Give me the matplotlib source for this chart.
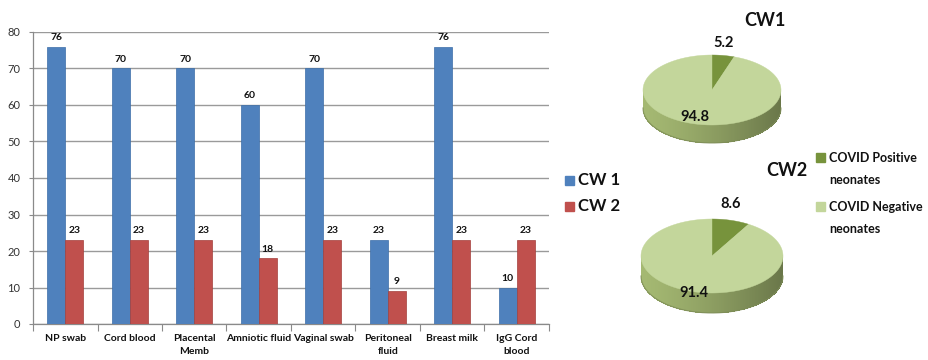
import numpy as np
import matplotlib
matplotlib.use("Agg")
import matplotlib.pyplot as plt
from matplotlib.patches import Polygon, Rectangle
from matplotlib.colors import to_rgb

plt.rcParams['font.family'] = ['Lato', 'DejaVu Sans']

# ---- data ----
categories = ["NP swab", "Cord blood", "Placental\nMemb", "Amniotic fluid",
              "Vaginal swab", "Peritoneal\nfluid", "Breast milk", "IgG Cord\nblood"]
cw1 = [76, 70, 70, 60, 70, 23, 76, 10]
cw2 = [23, 23, 23, 18, 23, 9, 23, 23]
series_names = ["CW 1", "CW 2"]
y_ticks = [0, 10, 20, 30, 40, 50, 60, 70, 80]

pie_titles = ["CW1", "CW2"]
pie_cw1 = [5.2, 94.8]
pie_cw2 = [8.6, 91.4]
pie_labels = ["COVID Positive\nneonates", "COVID Negative\nneonates"]

BLUE = "#4F81BD"
RED = "#C0504D"
POS = "#77933C"
NEG = "#C3D69B"
SIDE = "#93A566"

W, H = 929, 360
fig = plt.figure(figsize=(W / 100, H / 100), dpi=100)
fig.patch.set_facecolor("white")

# ---- grouped bar chart ----
x0, x1, ytop, ybot = 33, 549, 32, 324
ax = fig.add_axes([x0 / W, 1 - ybot / H, (x1 - x0) / W, (ybot - ytop) / H])
x = np.arange(len(categories))
bw = 0.28
b1 = ax.bar(x - bw / 2, cw1, bw, color=BLUE, edgecolor="#3d6ea8", linewidth=0.5, zorder=3)
b2 = ax.bar(x + bw / 2, cw2, bw, color=RED, edgecolor="#a33f3c", linewidth=0.5, zorder=3)
for bars, vals in ((b1, cw1), (b2, cw2)):
    for rect, v in zip(bars, vals):
        ax.text(rect.get_x() + rect.get_width() / 2, v + 1.3, f"{v}",
                ha="center", va="bottom", fontsize=7.5, fontweight="bold", color="#111111")

ax.set_xlim(-0.5, len(categories) - 0.5)
ax.set_ylim(0, 80)
ax.set_yticks(y_ticks)
ax.yaxis.grid(True, color="#9a9a9a", linewidth=1.0, zorder=0)
ax.set_axisbelow(True)
ax.tick_params(axis="y", labelsize=8, colors="#333333", length=3, width=0.8,
               direction="out", pad=6)
ax.tick_params(axis="y", color="#8a8a8a")
ax.set_xticks(x)
ax.set_xticklabels(categories, fontsize=7.5, fontweight="bold", linespacing=1.6)
ax.tick_params(axis="x", length=0, pad=7, colors="#111111")
ax.set_xticks(np.arange(-0.5, len(categories)), minor=True)
ax.tick_params(axis="x", which="minor", length=5, width=0.8, color="#8a8a8a", direction="out")
for s in ("top", "right"):
    ax.spines[s].set_visible(False)
for s in ("left", "bottom"):
    ax.spines[s].set_color("#8a8a8a")
    ax.spines[s].set_linewidth(0.9)

# overlay in pixel units for the legends and 3D pies
ov = fig.add_axes([0, 0, 1, 1])
ov.set_xlim(0, W)
ov.set_ylim(H, 0)
ov.axis("off")
ov.patch.set_alpha(0)

# bar legend
for i, (name, col) in enumerate(zip(series_names, [BLUE, RED])):
    yy = 180 + 26 * i
    ov.add_patch(Rectangle((565, yy - 4.5), 9, 9, color=col))
    ov.text(578, yy, name, fontsize=12, fontweight="bold", va="center", ha="left",
            color="#111111")


def shade(col, f):
    r, g, b = to_rgb(col)
    return (min(1, r * f), min(1, g * f), min(1, b * f))


def slice_index(theta_deg, bounds):
    # clockwise distance from 12 o'clock
    d = (90 - theta_deg) % 360
    for k in range(len(bounds) - 1):
        if bounds[k] <= d < bounds[k + 1]:
            return k
    return len(bounds) - 2


def pie3d(values, cx, cy, a, b, depth, colors, side_colors):
    total = sum(values)
    bounds = np.concatenate([[0], np.cumsum(values) / total * 360])
    # front side wall, shaded strip by strip
    ths = np.linspace(180, 360, 241)
    for t0, t1 in zip(ths[:-1], ths[1:]):
        tm = 0.5 * (t0 + t1)
        k = slice_index(tm, bounds)
        c = np.cos(np.radians(tm))
        f = 1.12 - 0.40 * ((c + 1) / 2) ** 1.3
        p = [(cx + a * np.cos(np.radians(t)), cy - b * np.sin(np.radians(t))) for t in (t0, t1 + 0.3)]
        quad = [p[0], p[1], (p[1][0], p[1][1] + depth), (p[0][0], p[0][1] + depth)]
        ov.add_patch(Polygon(quad, closed=True, facecolor=shade(side_colors[k], f),
                             edgecolor="none", linewidth=0, antialiased=False))
    # soft outline of the lower rim
    tt = np.linspace(180, 360, 200)
    ov.plot(cx + a * np.cos(np.radians(tt)), cy - b * np.sin(np.radians(tt)) + depth,
            color=shade(SIDE, 0.85), linewidth=0.8, alpha=0.8)
    # top face wedges
    for k in range(len(values)):
        a0, a1 = 90 - bounds[k], 90 - bounds[k + 1]
        tt = np.linspace(a0, a1, 200)
        pts = [(cx, cy)] + [(cx + a * np.cos(np.radians(t)), cy - b * np.sin(np.radians(t)))
                            for t in tt]
        ov.add_patch(Polygon(pts, closed=True, facecolor=colors[k], edgecolor=colors[k],
                             linewidth=0.3))
    return bounds


pie3d(pie_cw1, 712, 90, 69, 35, 18, [POS, NEG], ["#6f8a35", SIDE])
pie3d(pie_cw2, 712, 256, 71, 37, 20, [POS, NEG], ["#6f8a35", SIDE])

ov.text(765, 20, pie_titles[0], fontsize=13, fontweight="bold", ha="center", va="center",
        color="#111111")
ov.text(787, 171, pie_titles[1], fontsize=13, fontweight="bold", ha="center", va="center",
        color="#111111")

label_pos = [((724, 43), (695, 117)), ((731, 204), (694, 293))]
for vals, (pp, pn) in zip([pie_cw1, pie_cw2], label_pos):
    ov.text(*pp, f"{vals[0]}", fontsize=10.5, fontweight="bold", ha="center", va="center",
            color="#111111")
    ov.text(*pn, f"{vals[1]}", fontsize=10.5, fontweight="bold", ha="center", va="center",
            color="#111111")

# pie legend
for i, (lab, col) in enumerate(zip(pie_labels, [POS, NEG])):
    yy = 158 + 49 * i
    ov.add_patch(Rectangle((816, yy - 5), 9, 9, color=col))
    ov.text(829, yy + 11, lab, fontsize=9, fontweight="bold", ha="left", va="center",
            linespacing=2.05, color="#111111")

fig.savefig("out.png", dpi=100, facecolor="white")
